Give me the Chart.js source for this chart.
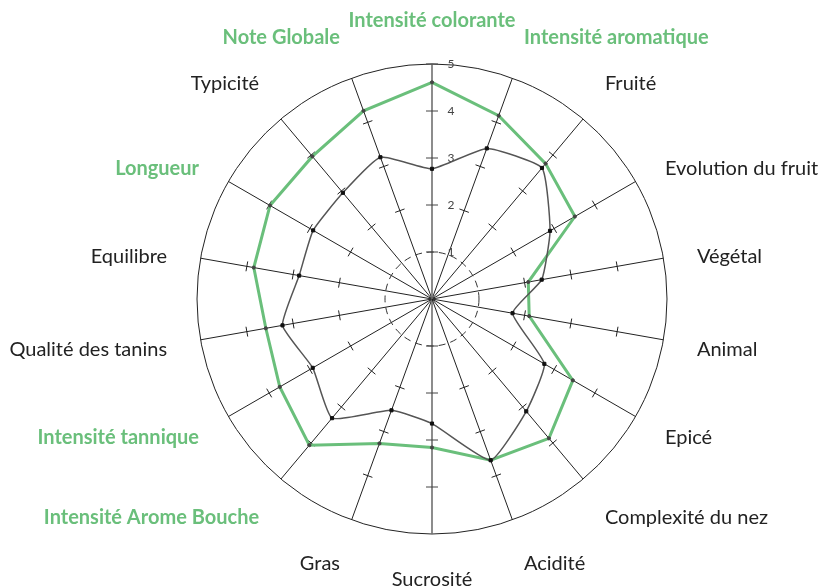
<!DOCTYPE html>
<html>
<head>
<meta charset="utf-8">
<script src="https://cdn.jsdelivr.net/npm/chart.js@4/dist/chart.umd.min.js"></script>
<style>
    body{ margin: 0; background: #ffffff; }
    #wrap{ width: 819px; height: 586px; position: relative; }
</style>
</head>
<body>
<div id="wrap"><canvas id="radar"></canvas></div>
<script>
//AXES (clockwise from the top)
let criteres = ['Intensité colorante', 'Intensité aromatique', 'Fruité', 'Evolution du fruit', 'Végétal', 'Animal',
    'Epicé', 'Complexité du nez', 'Acidité', 'Sucrosité', 'Gras', 'Intensité Arome Bouche',
    'Intensité tannique', 'Qualité des tanins', 'Equilibre', 'Longueur', 'Typicité', 'Note Globale'];

//which labels are written in green bold
let criteresVerts = [0, 1, 11, 12, 15, 17];

//SERIES
let notesVin = [2.77, 3.41, 3.64, 2.9, 2.37, 1.74, 2.76, 3.12, 3.65, 2.65, 2.52, 3.31, 2.93, 3.23, 2.87, 2.92, 2.95, 3.21];
let notesProfil = [4.61, 4.15, 3.76, 3.51, 2.08, 2.10, 3.46, 3.87, 3.65, 3.16, 3.27, 4.06, 3.74, 3.59, 3.85, 3.98, 3.96, 4.26];

//SCALE
let echelle = [1, 2, 3, 4, 5];

const VERT = "#6abf7b";

//little crossing marks on the spokes, the dashed circle and the 1..5 labels
let marquesPlugin = {
    id: 'marques',
    beforeDatasetsDraw(chart){
        let r = chart.scales.r;
        let ctx = chart.ctx;
        ctx.save();

        //dashed circle at 1
        ctx.beginPath();
        ctx.setLineDash([7, 5]);
        ctx.strokeStyle = "#333";
        ctx.lineWidth = 1;
        ctx.arc(r.xCenter, r.yCenter, r.getDistanceFromCenterForValue(echelle[0]), 0, Math.PI * 2);
        ctx.stroke();
        ctx.setLineDash([]);

        criteres.forEach((c, i) =>{
            let vertical = (i === 0 || i === 9);
            let valeurs = echelle.filter(v => v > 1 && v < 5);
            if(i === 0) valeurs = echelle;
            if(i === 9) valeurs = echelle.slice(0, 4);
            let half = vertical ? 6 : 5;
            ctx.strokeStyle = vertical ? "#444" : "#222";
            ctx.lineWidth = 1;
            valeurs.forEach(v =>{
                let p = r.getPointPositionForValue(i, v);
                let a = p.angle + Math.PI / 2;
                let dx = Math.cos(a) * half;
                let dy = Math.sin(a) * half;
                ctx.beginPath();
                ctx.moveTo(p.x - dx, p.y - dy);
                ctx.lineTo(p.x + dx, p.y + dy);
                ctx.stroke();
            });
        });

        //tick labels beside the top spoke
        ctx.fillStyle = "#444";
        ctx.font = "12px Lato";
        ctx.textAlign = "center";
        ctx.textBaseline = "middle";
        echelle.forEach(v =>{
            let p = r.getPointPositionForValue(0, v);
            ctx.fillText(String(v), p.x + 19, p.y);
        });
        ctx.restore();
    }
};

let data = {
    labels: criteres,
    datasets: [
        {
            label: 'Vin',
            data: notesVin,
            borderColor: "#555555",
            borderWidth: 1.5,
            tension: 0.15,
            fill: false,
            pointStyle: 'rect',
            pointRadius: 2.2,
            pointBackgroundColor: "#111111",
            pointBorderColor: "#111111",
            pointBorderWidth: 1
        },
        {
            label: 'Profil',
            data: notesProfil,
            borderColor: VERT,
            borderWidth: 3,
            fill: false,
            pointRadius: 1.6,
            pointBackgroundColor: "#444444",
            pointBorderColor: "#444444",
            pointBorderWidth: 1
        }
    ]
};

let config = {
    type: 'radar',
    data: data,
    plugins: [marquesPlugin],
    options: {
        responsive: true,
        maintainAspectRatio: false,
        animation: false,
        scales: {
            r: {
                min: 0,
                max: 5,
                afterFit: function(scale){
                    //let the side labels run wide: only top/bottom labels size the circle
                    scale.left = -50;
                    scale.right = 914;
                    scale.top = 6;
                    scale.bottom = 592;
                    scale.xCenter = 432;
                    scale.yCenter = 299;
                    scale.drawingArea = 293;
                    scale.fit();
                    scale.left = 0;
                    scale.right = 819;
                    scale.top = 0;
                    scale.bottom = 586;

                    //side labels sit centred on their spoke, upper ones a little lower
                    let n = criteres.length;
                    scale._pointLabelItems.forEach((item, i) =>{
                        let angle = i * 360 / n;
                        let shift = 0;
                        if((angle > 45 && angle < 90) || (angle > 270 && angle < 315)){
                            shift = 16;
                        }
                        else if((angle > 90 && angle < 135) || (angle > 225 && angle < 270)){
                            shift = -8;
                        }
                        else if(angle < 90 || angle > 270){
                            shift = 3;
                        }
                        item.y += shift;
                        item.top += shift;
                        item.bottom += shift;
                    });
                },
                ticks: {
                    stepSize: 1,
                    display: false
                },
                grid: {
                    circular: true,
                    color: c => c.tick && c.tick.value === 5 ? "#222222" : "rgba(0,0,0,0)",
                    lineWidth: c => c.tick && c.tick.value === 5 ? 1 : 0
                },
                angleLines: {
                    color: c => (c.index === 0 || c.index === 9) ? "#707070" : "#222222",
                    lineWidth: c => (c.index === 0 || c.index === 9) ? 1.6 : 1
                },
                pointLabels: {
                    padding: 34,
                    color: c => criteresVerts.includes(c.index) ? VERT : "#222222",
                    font: c => criteresVerts.includes(c.index)
                        ? { family: 'Lato', size: 20, weight: 'bold' }
                        : { family: 'Lato', size: 20 }
                }
            }
        },
        plugins: {
            legend: { display: false },
            tooltip: { enabled: false }
        }
    }
};

new Chart(document.querySelector("#radar"), config);
</script>
</body>
</html>
